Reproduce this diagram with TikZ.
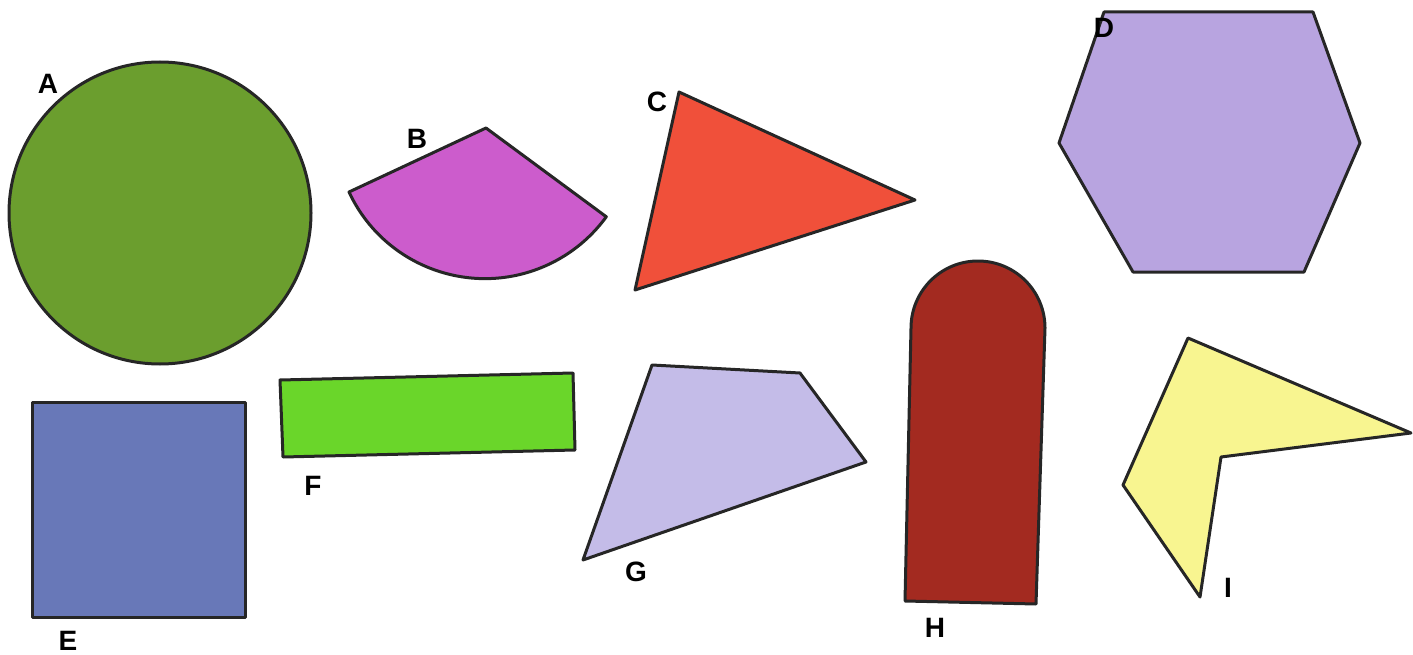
\documentclass[tikz,border=0pt]{standalone}
\usepackage{fontspec}
\setmainfont{Liberation Sans}
\begin{document}
\begin{tikzpicture}[x=1pt,y=-1pt,
  shp/.style={draw=black!85,line width=3pt,line join=round},
  lbl/.style={font=\fontsize{28}{28}\selectfont\bfseries,inner sep=0pt}]
\useasboundingbox (0,0) rectangle (1413,655);
\definecolor{cA}{HTML}{6B9E2E}
\definecolor{cB}{HTML}{CC5CCC}
\definecolor{cC}{HTML}{F0503A}
\definecolor{cD}{HTML}{B8A4E0}
\definecolor{cE}{HTML}{6878B8}
\definecolor{cF}{HTML}{6AD62A}
\definecolor{cG}{HTML}{C4BCE8}
\definecolor{cH}{HTML}{A32A20}
\definecolor{cI}{HTML}{F8F590}
% A
\draw[shp,fill=cA] (160,213) circle (151);
\node[lbl] (A) at (48,84) {A};
% B
\draw[shp,fill=cB] (486,128) -- (349,192) arc[start angle=155,end angle=36,radius=150] -- cycle;
\node[lbl] (B) at (417,139) {B};
% C
\draw[shp,fill=cC] (679,92) -- (915,200) -- (635,290) -- cycle;
\node[lbl] (C) at (657,102) {C};
% D
\draw[shp,fill=cD] (1104,12) -- (1313,12) -- (1360,143) -- (1304,272) -- (1133,272) -- (1059,143) -- cycle;
\node[lbl] (D) at (1104,28) {D};
% E
\draw[shp,fill=cE] (32,402) rectangle (245,617);
\node[lbl] (E) at (68,641) {E};
% F
\draw[shp,fill=cF] (280,380) -- (573,373) -- (575,450) -- (283,457) -- cycle;
\node[lbl] (F) at (313,486) {F};
% G
\draw[shp,fill=cG] (652,365) -- (800,373) -- (866,462) -- (583,560) -- cycle;
\node[lbl] (G) at (636,572) {G};
% H
\draw[shp,fill=cH] (905,601) -- (911,328) arc[start angle=180,end angle=360,radius=67] -- (1036,604) -- cycle;
\node[lbl] (H) at (935,628) {H};
% I
\draw[shp,fill=cI] (1188,338) -- (1411,433) -- (1221,457) -- (1200,597) -- (1123,485) -- cycle;
\node[lbl] (I) at (1228,588) {I};
\end{tikzpicture}
\end{document}
